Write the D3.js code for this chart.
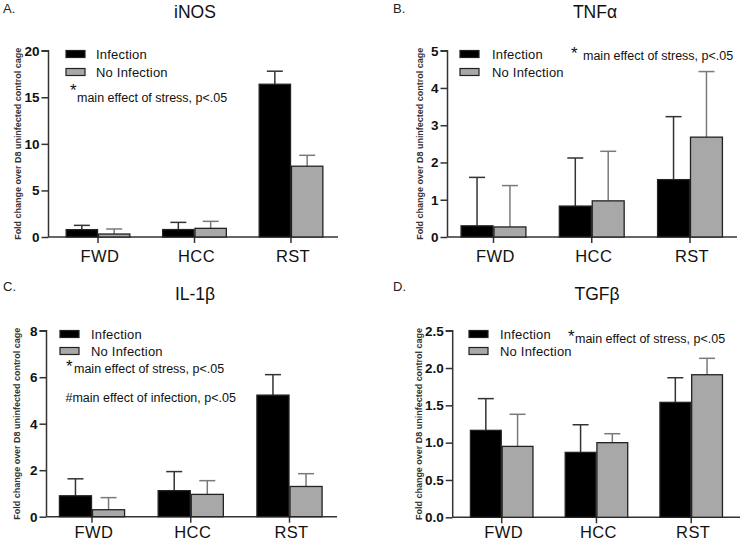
<!DOCTYPE html>
<html><head><meta charset="utf-8">
<script src="https://cdn.jsdelivr.net/npm/d3@7"></script>
<style>
html,body{margin:0;padding:0;background:#fff;}
svg{display:block;font-family:"Liberation Sans",Arial,sans-serif;}
.ytick text{font-size:13.5px;font-weight:bold;fill:#111;font-family:"Liberation Sans",Arial,sans-serif;}
</style></head>
<body>
<svg id="c" width="740" height="541"></svg>
<script>
// ---- data ----
const categories = ["FWD", "HCC", "RST"];
const seriesNames = ["Infection", "No Infection"];
const yLabel = "Fold change over D8 uninfected control cage";

const inosInfection = [0.79, 0.80, 16.4];
const inosInfectionSem = [0.46, 0.77, 1.4];
const inosNoInfection = [0.32, 0.93, 7.6];
const inosNoInfectionSem = [0.54, 0.75, 1.17];
const inosTicks = [0, 5, 10, 15, 20];

const tnfInfection = [0.30, 0.83, 1.54];
const tnfInfectionSem = [1.30, 1.29, 1.69];
const tnfNoInfection = [0.27, 0.97, 2.68];
const tnfNoInfectionSem = [1.11, 1.33, 1.76];
const tnfTicks = [0, 1, 2, 3, 4, 5];

const il1Infection = [0.90, 1.12, 5.23];
const il1InfectionSem = [0.73, 0.82, 0.88];
const il1NoInfection = [0.30, 0.96, 1.30];
const il1NoInfectionSem = [0.52, 0.59, 0.55];
const il1Ticks = [0, 2, 4, 6, 8];

const tgfInfection = [1.165, 0.87, 1.54];
const tgfInfectionSem = [0.425, 0.37, 0.33];
const tgfNoInfection = [0.95, 1.00, 1.91];
const tgfNoInfectionSem = [0.43, 0.12, 0.22];
const tgfTicks = [0, 0.5, 1.0, 1.5, 2.0, 2.5];

const panels = [
  {letter:"A.", title:"iNOS", inf:inosInfection, infSem:inosInfectionSem, no:inosNoInfection, noSem:inosNoInfectionSem, ticks:inosTicks, fmt:d3.format("d"),
   notes:[{sym:"*", text:"main effect of stress, p<.05"}]},
  {letter:"B.", title:"TNF\u03B1", inf:tnfInfection, infSem:tnfInfectionSem, no:tnfNoInfection, noSem:tnfNoInfectionSem, ticks:tnfTicks, fmt:d3.format("d"),
   notes:[{sym:"*", text:"main effect of stress, p<.05"}]},
  {letter:"C.", title:"IL-1\u03B2", inf:il1Infection, infSem:il1InfectionSem, no:il1NoInfection, noSem:il1NoInfectionSem, ticks:il1Ticks, fmt:d3.format("d"),
   notes:[{sym:"*", text:"main effect of stress, p<.05"},{sym:"#", text:"main effect of infection, p<.05"}]},
  {letter:"D.", title:"TGF\u03B2", inf:tgfInfection, infSem:tgfInfectionSem, no:tgfNoInfection, noSem:tgfNoInfectionSem, ticks:tgfTicks, fmt:d3.format(".1f"),
   notes:[{sym:"*", text:"main effect of stress, p<.05"}]}
];

// ---- layout (per panel) ----
const layouts = [
  {ax:48.5, x1:338, top:50.7, bot:237, c0:98, c2:291, letterX:3, letterY:13, titleX:195, titleY:18, catY:262, labX:18,
   leg:{x:66, tx:96, y0:54, y1:72}, notePos:[{sx:70, sy:97, tx:77, ty:102}]},
  {ax:447.5, x1:737, top:50.7, bot:237, c0:493.5, c2:690, letterX:393, letterY:13, titleX:595, titleY:18, catY:262, labX:420,
   leg:{x:460, tx:492, y0:54, y1:72}, notePos:[{sx:571, sy:60, tx:583, ty:60}]},
  {ax:46.5, x1:337, top:330.7, bot:516.7, c0:92, c2:289.5, letterX:3, letterY:291, titleX:195, titleY:300, catY:537.5, labX:17,
   leg:{x:60, tx:91, y0:334, y1:351}, notePos:[{sx:66, sy:373, tx:74, ty:373},{sx:null, tx:65.5, ty:402}]},
  {ax:452.7, x1:740, top:330.7, bot:517.3, c0:501.7, c2:691.2, letterX:393, letterY:291, titleX:597, titleY:300, catY:537.5, labX:419,
   leg:{x:469, tx:500, y0:334, y1:351}, notePos:[{sx:568, sy:343, tx:575, ty:343}]}
];

const fills = ["#000000", "#a8a8a8"];
const errColors = ["#333333", "#7a7a7a"];
const svg = d3.select("#c");

panels.forEach((p, i) => {
  const L = layouts[i];
  const g = svg.append("g");
  const step = (L.c2 - L.c0) / 2;
  const x = d3.scaleBand().domain(categories)
    .range([L.c0 - step / 2, L.c2 + step / 2]).padding(0.34).paddingOuter(0.17);
  const xs = d3.scaleBand().domain(seriesNames).range([0, x.bandwidth()]).paddingInner(0.03);
  const y = d3.scaleLinear().domain([p.ticks[0], p.ticks[p.ticks.length - 1]]).range([L.bot, L.top]);

  // letter + title
  g.append("text").attr("x", L.letterX).attr("y", L.letterY).attr("font-size", 13).attr("fill", "#222").text(p.letter);
  g.append("text").attr("x", L.titleX).attr("y", L.titleY).attr("font-size", 17.5).attr("text-anchor", "middle").attr("fill", "#111").text(p.title);

  // y axis
  const yAxis = g.append("g").attr("class", "ytick").attr("transform", `translate(${L.ax},0)`)
    .call(d3.axisLeft(y).tickValues(p.ticks).tickFormat(p.fmt).tickSize(7).tickPadding(2));
  yAxis.attr("font-size", null).attr("font-family", null);
  yAxis.selectAll("path,line").attr("stroke", "#333").attr("stroke-width", 1.5);
  yAxis.select(".domain").attr("d", `M-7,${L.top}H0V${L.bot}`);
  yAxis.selectAll("text").attr("fill", "#111");

  // x axis
  const xAxis = g.append("g").attr("transform", `translate(0,${L.bot})`)
    .call(d3.axisBottom(x).tickSize(6).tickPadding(7));
  xAxis.select(".domain").attr("d", `M${L.ax},0H${L.x1}`);
  xAxis.selectAll("path,line").attr("stroke", "#333").attr("stroke-width", 1.5);
  xAxis.selectAll("text").remove();
  g.selectAll(".cat").data(categories).join("text")
    .attr("x", d => x(d) + x.bandwidth() / 2 + 2).attr("y", L.catY)
    .attr("text-anchor", "middle").attr("font-size", 16.5).attr("letter-spacing", 0.4).attr("fill", "#111").text(d => d);

  // y label
  g.append("text").attr("transform", `translate(${L.labX},${(L.top + L.bot) / 2}) rotate(-90)`)
    .attr("text-anchor", "middle").attr("dy", "0.35em").attr("font-size", 8.3).attr("font-weight", "bold")
    .attr("fill", "#333").attr("textLength", 192).attr("lengthAdjust", "spacingAndGlyphs").text(yLabel);

  // bars
  const rows = categories.map((c, k) => [
    {c, s: seriesNames[0], v: p.inf[k], e: p.infSem[k], idx: 0},
    {c, s: seriesNames[1], v: p.no[k], e: p.noSem[k], idx: 1}
  ]).flat();
  const bars = g.append("g");
  const cx = d => x(d.c) + xs(d.s) + xs.bandwidth() / 2;
  const eb = bars.selectAll(".eb").data(rows).join("g");
  eb.append("line")
    .attr("x1", cx).attr("x2", cx)
    .attr("y1", d => y(d.v)).attr("y2", d => y(d.v + d.e))
    .attr("stroke", d => errColors[d.idx]).attr("stroke-width", 1.5);
  eb.append("line")
    .attr("x1", d => cx(d) - 8).attr("x2", d => cx(d) + 8)
    .attr("y1", d => y(d.v + d.e)).attr("y2", d => y(d.v + d.e))
    .attr("stroke", d => errColors[d.idx]).attr("stroke-width", 1.5);
  bars.selectAll("rect").data(rows).join("rect")
    .attr("x", d => x(d.c) + xs(d.s)).attr("width", xs.bandwidth())
    .attr("y", d => y(d.v)).attr("height", d => y(0) - y(d.v))
    .attr("fill", d => fills[d.idx]).attr("stroke", "#222").attr("stroke-width", 1.3);

  // legend
  const lg = g.append("g");
  seriesNames.forEach((s, k) => {
    const cy = k === 0 ? L.leg.y0 : L.leg.y1;
    lg.append("rect").attr("x", L.leg.x).attr("y", cy - 3.5).attr("width", 19).attr("height", 7)
      .attr("fill", fills[k]).attr("stroke", "#222").attr("stroke-width", 1.2);
    lg.append("text").attr("x", L.leg.tx).attr("y", cy).attr("dy", "0.35em").attr("font-size", 13)
      .attr("letter-spacing", 0.2).attr("fill", "#111").text(s);
  });

  // notes
  p.notes.forEach((n, k) => {
    const np = L.notePos[k];
    if (n.sym === "*") {
      g.append("text").attr("x", np.sx).attr("y", np.sy - 1).attr("font-size", 17).attr("fill", "#111").text("*");
      g.append("text").attr("x", np.tx).attr("y", np.ty).attr("font-size", 12.5).attr("fill", "#111").text(n.text);
    } else {
      g.append("text").attr("x", np.tx).attr("y", np.ty).attr("font-size", 12.5).attr("fill", "#111").text(n.sym + n.text);
    }
  });
});
</script>
</body></html>
